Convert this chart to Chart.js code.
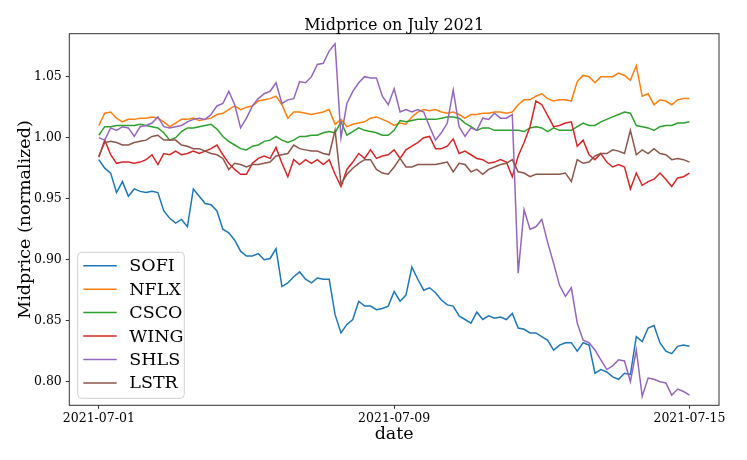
<!DOCTYPE html>
<html>
<head>
<meta charset="utf-8">
<title>Midprice on July 2021</title>
<script src="https://cdn.jsdelivr.net/npm/chart.js@4.4.0/dist/chart.umd.min.js"></script>
<style>
  html, body { margin: 0; padding: 0; background: #ffffff; }
  #wrap { width: 747px; height: 460px; }
</style>
</head>
<body>
<div id="wrap"><canvas id="myChart" width="747" height="460"></canvas></div>
<script>
// tickers, in the order matplotlib plotted them
const tickers = ["SOFI", "NFLX", "CSCO", "WING", "SHLS", "LSTR"];
const colors = ["#1f77b4", "#ff7f0e", "#2ca02c", "#d62728", "#9467bd", "#8c564b"];

// x ticks: sample index -> date label
const xTickPos = [0, 50, 100];
const xTickLabels = ["2021-07-01", "2021-07-09", "2021-07-15"];
const yTickVals = [0.8, 0.85, 0.9, 0.95, 1.0, 1.05];

// normalized midprice, 101 samples each
const sofi = [0.982, 0.975, 0.971, 0.955, 0.964, 0.952, 0.958, 0.956, 0.955, 0.956,
  0.955, 0.940, 0.934, 0.930, 0.933, 0.927, 0.958, 0.952, 0.946, 0.945,
  0.940, 0.925, 0.922, 0.916, 0.907, 0.903, 0.903, 0.905, 0.900, 0.901,
  0.909, 0.878, 0.881, 0.886, 0.890, 0.884, 0.881, 0.885, 0.884, 0.884,
  0.855, 0.840, 0.847, 0.851, 0.866, 0.862, 0.862, 0.859, 0.860, 0.862,
  0.874, 0.866, 0.871, 0.894, 0.884, 0.875, 0.877, 0.873, 0.867, 0.863,
  0.862, 0.854, 0.851, 0.848, 0.857, 0.851, 0.854, 0.852, 0.853, 0.851,
  0.856, 0.844, 0.843, 0.840, 0.840, 0.837, 0.834, 0.826, 0.830, 0.832,
  0.832, 0.825, 0.832, 0.830, 0.807, 0.810, 0.808, 0.804, 0.802, 0.807,
  0.806, 0.837, 0.833, 0.844, 0.846, 0.832, 0.825, 0.823, 0.829, 0.830,
  0.829];
const nflx = [1.010, 1.020, 1.021, 1.016, 1.013, 1.015, 1.015, 1.016, 1.016, 1.017,
  1.016, 1.013, 1.009, 1.012, 1.015, 1.015, 1.016, 1.014, 1.015, 1.016,
  1.019, 1.020, 1.023, 1.026, 1.023, 1.025, 1.026, 1.030, 1.031, 1.032,
  1.034, 1.027, 1.016, 1.021, 1.021, 1.020, 1.019, 1.020, 1.021, 1.023,
  1.011, 1.015, 1.009, 1.011, 1.012, 1.013, 1.016, 1.017, 1.015, 1.013,
  1.010, 1.012, 1.011, 1.017, 1.021, 1.023, 1.022, 1.023, 1.021, 1.020,
  1.021, 1.019, 1.016, 1.019, 1.019, 1.020, 1.020, 1.021, 1.021, 1.020,
  1.021, 1.027, 1.031, 1.031, 1.034, 1.036, 1.032, 1.030, 1.031, 1.031,
  1.030, 1.046, 1.051, 1.050, 1.045, 1.050, 1.050, 1.050, 1.053, 1.051,
  1.047, 1.059, 1.034, 1.036, 1.027, 1.031, 1.030, 1.027, 1.031, 1.032,
  1.032];
const csco = [1.002, 1.009, 1.009, 1.010, 1.010, 1.010, 1.010, 1.011, 1.010, 1.009,
  1.008, 1.004, 0.998, 1.000, 1.005, 1.008, 1.008, 1.009, 1.010, 1.011,
  1.007, 1.001, 0.997, 0.994, 0.991, 0.990, 0.993, 0.994, 0.997, 0.998,
  1.001, 0.998, 0.996, 0.998, 1.001, 1.001, 1.002, 1.002, 1.004, 1.005,
  1.004, 1.013, 1.002, 1.005, 1.008, 1.006, 1.005, 1.004, 1.002, 1.002,
  1.006, 1.014, 1.013, 1.014, 1.015, 1.015, 1.015, 1.015, 1.016, 1.017,
  1.017, 1.016, 1.012, 1.009, 1.006, 1.008, 1.008, 1.006, 1.006, 1.006,
  1.006, 1.006, 1.005, 1.008, 1.009, 1.008, 1.005, 1.008, 1.006, 1.006,
  1.006, 1.009, 1.012, 1.010, 1.010, 1.013, 1.015, 1.017, 1.019, 1.021,
  1.020, 1.010, 1.009, 1.008, 1.006, 1.009, 1.010, 1.010, 1.012, 1.012,
  1.013];
const wing = [0.984, 0.998, 0.986, 0.979, 0.980, 0.980, 0.979, 0.980, 0.982, 0.986,
  0.978, 0.987, 0.986, 0.989, 0.986, 0.987, 0.989, 0.987, 0.989, 0.991,
  0.994, 0.986, 0.979, 0.974, 0.970, 0.970, 0.979, 0.983, 0.985, 0.983,
  0.992, 0.979, 0.968, 0.982, 0.978, 0.982, 0.979, 0.982, 0.978, 0.982,
  0.970, 0.960, 0.974, 0.980, 0.987, 0.983, 0.990, 0.983, 0.985, 0.986,
  0.990, 0.983, 0.990, 0.993, 0.996, 1.000, 1.001, 0.991, 0.991, 0.993,
  0.999, 0.987, 0.989, 0.986, 0.983, 0.982, 0.979, 0.980, 0.982, 0.980,
  0.968, 0.985, 0.996, 1.009, 1.030, 1.027, 1.018, 1.009, 1.010, 1.012,
  1.013, 0.993, 0.998, 0.986, 0.982, 0.987, 0.980, 0.976, 0.978, 0.976,
  0.958, 0.971, 0.961, 0.964, 0.966, 0.971, 0.966, 0.960, 0.967, 0.968,
  0.971];
const shls = [1.000, 0.998, 1.008, 1.006, 1.009, 1.008, 1.001, 1.009, 1.010, 1.012,
  1.017, 1.009, 1.008, 1.009, 1.010, 1.013, 1.015, 1.016, 1.015, 1.019,
  1.026, 1.028, 1.038, 1.027, 1.008, 1.016, 1.026, 1.032, 1.036, 1.038,
  1.045, 1.028, 1.031, 1.032, 1.046, 1.045, 1.050, 1.060, 1.061, 1.071,
  1.077, 1.000, 1.028, 1.038, 1.045, 1.050, 1.049, 1.049, 1.034, 1.027,
  1.040, 1.021, 1.023, 1.021, 1.023, 1.021, 1.009, 0.998, 1.004, 1.012,
  1.039, 1.009, 1.001, 1.008, 1.006, 1.016, 1.015, 1.020, 1.016, 1.016,
  1.019, 0.889, 0.941, 0.925, 0.927, 0.933, 0.914, 0.897, 0.879, 0.870,
  0.877, 0.848, 0.834, 0.832, 0.826, 0.818, 0.810, 0.813, 0.818, 0.817,
  0.800, 0.826, 0.788, 0.803, 0.802, 0.800, 0.799, 0.789, 0.794, 0.792,
  0.789];
const lstr = [0.985, 0.996, 0.997, 0.996, 0.994, 0.994, 0.996, 0.997, 0.998, 1.001,
  1.002, 0.998, 0.998, 0.998, 0.994, 0.993, 0.991, 0.991, 0.989, 0.987,
  0.986, 0.983, 0.974, 0.979, 0.978, 0.976, 0.978, 0.978, 0.979, 0.980,
  0.985, 0.986, 0.987, 0.994, 0.991, 0.990, 0.989, 0.989, 0.987, 0.986,
  1.006, 0.962, 0.970, 0.975, 0.979, 0.982, 0.982, 0.974, 0.971, 0.970,
  0.976, 0.983, 0.976, 0.976, 0.978, 0.978, 0.978, 0.978, 0.979, 0.980,
  0.972, 0.979, 0.978, 0.972, 0.974, 0.970, 0.974, 0.976, 0.978, 0.979,
  0.982, 0.972, 0.971, 0.968, 0.970, 0.970, 0.970, 0.970, 0.970, 0.971,
  0.964, 0.982, 0.979, 0.980, 0.985, 0.987, 0.987, 0.990, 0.989, 0.987,
  1.006, 0.986, 0.990, 0.987, 0.991, 0.987, 0.986, 0.982, 0.983, 0.982,
  0.980];

const series = [sofi, nflx, csco, wing, shls, lstr];

const serif = "'DejaVu Serif', serif";

// turn each value list into {x, y} points on the sample index
function toPoints(values) {
  return values.map((v, i) => ({ x: i, y: v }));
}

// matplotlib style box round the plot area
const framePlugin = {
  id: "frame",
  afterDatasetsDraw(chart) {
    const { ctx, chartArea } = chart;
    ctx.save();
    ctx.strokeStyle = "#333333";
    ctx.lineWidth = 1;
    ctx.strokeRect(chartArea.left, chartArea.top, chartArea.right - chartArea.left, chartArea.bottom - chartArea.top);
    ctx.restore();
  },
};

// title centred over the axes, not over the whole canvas
const titlePlugin = {
  id: "axTitle",
  afterDraw(chart) {
    const { ctx, chartArea } = chart;
    ctx.save();
    ctx.fillStyle = "#000000";
    ctx.font = "16px " + serif;
    ctx.textAlign = "center";
    ctx.textBaseline = "alphabetic";
    ctx.fillText("Midprice on July 2021", (chartArea.left + chartArea.right) / 2, 30);
    ctx.restore();
  },
};

// legend box in the lower left corner of the axes
const legendPlugin = {
  id: "boxLegend",
  afterDraw(chart) {
    const { ctx, chartArea } = chart;
    const sets = chart.data.datasets;
    const rowH = 23.45;
    const boxW = 106.6;
    const boxH = 146;
    const left = chartArea.left + 8.4;
    const top = chartArea.bottom - 7 - boxH;
    ctx.save();
    ctx.beginPath();
    ctx.roundRect(left, top, boxW, boxH, 4);
    ctx.fillStyle = "rgba(255,255,255,0.8)";
    ctx.fill();
    ctx.strokeStyle = "#d0d0d0";
    ctx.lineWidth = 1;
    ctx.stroke();
    ctx.font = "17.5px " + serif;
    ctx.textBaseline = "middle";
    ctx.textAlign = "left";
    sets.forEach((ds, k) => {
      let y = top + 13.4 + k * rowH;
      ctx.strokeStyle = ds.borderColor;
      ctx.lineWidth = 1.5;
      ctx.beginPath();
      ctx.moveTo(left + 5.6, y);
      ctx.lineTo(left + 39, y);
      ctx.stroke();
      ctx.fillStyle = "#000000";
      ctx.fillText(ds.label, left + 51.6, y + 1);
    });
    ctx.restore();
  },
};

const ctx = document.getElementById("myChart");

new Chart(ctx, {
  type: "line",
  data: {
    datasets: tickers.map((name, k) => ({
      label: name,
      data: toPoints(series[k]),
      borderColor: colors[k],
      backgroundColor: colors[k],
      borderWidth: 1.5,
      pointRadius: 0,
      tension: 0,
      fill: false,
      // later series sit on top, like matplotlib
      order: tickers.length - 1 - k,
    })),
  },
  options: {
    responsive: false,
    animation: false,
    devicePixelRatio: 1,
    layout: { padding: { top: 33.7, right: 28, left: 0, bottom: 0 } },
    plugins: {
      legend: { display: false },
      tooltip: { enabled: false },
      title: { display: false },
    },
    scales: {
      x: {
        type: "linear",
        min: -5,
        max: 105,
        afterBuildTicks: (s) => { s.ticks = xTickPos.map((v) => ({ value: v })); },
        afterFit: (s) => { s.height = 54.7; },
        border: { display: false },
        grid: { drawOnChartArea: false, drawTicks: true, tickLength: 3.5, color: "#333333" },
        ticks: {
          autoSkip: false,
          maxRotation: 0,
          padding: 2,
          color: "#000000",
          font: { family: serif, size: 12.5 },
          callback: (v) => xTickLabels[xTickPos.indexOf(v)],
        },
        title: {
          display: true,
          text: "date",
          color: "#000000",
          font: { family: serif, size: 17.5 },
          padding: { top: 0, bottom: 14.8 },
        },
      },
      y: {
        type: "linear",
        min: 0.7807,
        max: 1.0852,
        afterBuildTicks: (s) => { s.ticks = yTickVals.map((v) => ({ value: v })); },
        afterFit: (s) => { s.width = 69.3; },
        border: { display: false },
        grid: { drawOnChartArea: false, drawTicks: true, tickLength: 3.5, color: "#333333" },
        ticks: {
          padding: 4,
          color: "#000000",
          font: { family: serif, size: 12.5 },
          callback: (v) => v.toFixed(2),
        },
        title: {
          display: true,
          text: "Midprice (normalized)",
          color: "#000000",
          font: { family: serif, size: 17.5 },
          padding: { top: 14.5, bottom: 0 },
        },
      },
    },
  },
  plugins: [framePlugin, titlePlugin, legendPlugin],
});
</script>
</body>
</html>
